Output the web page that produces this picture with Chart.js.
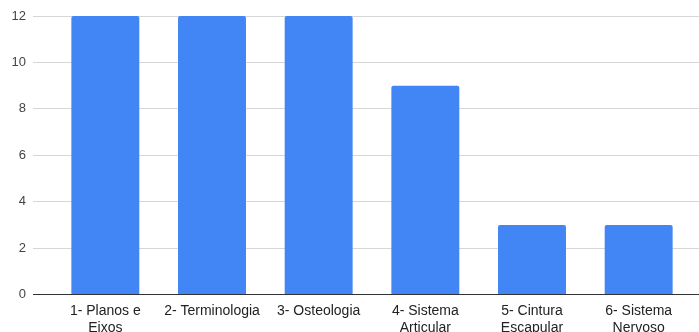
<!DOCTYPE html>
<html>
<head>
<meta charset="utf-8">
<script src="https://cdn.jsdelivr.net/npm/chart.js@4/dist/chart.umd.min.js"></script>
<style>
  html, body { margin: 0; padding: 0; background: #fff; overflow: hidden; }
  #wrap { width: 699px; height: 332px; position: relative; }
</style>
</head>
<body>
<div id="wrap"><canvas id="chart"></canvas></div>
<script>
// Topics covered and how many items fall under each
const categories = [
  ["1- Planos e", "Eixos"],
  "2- Terminologia",
  "3- Osteologia",
  ["4- Sistema", "Articular"],
  ["5- Cintura", "Escapular"],
  ["6- Sistema", "Nervoso"]
];
const counts = [12, 12, 12, 9, 3, 3];
const yTicks = [0, 2, 4, 6, 8, 10, 12];

const gridColor = ctx => (ctx.tick && ctx.tick.value === 0) ? '#333333' : '#d6d6d6';

new Chart(document.getElementById('chart'), {
  type: 'bar',
  data: {
    labels: categories,
    datasets: [{
      data: counts,
      backgroundColor: '#4285F4',
      borderRadius: { topLeft: 2, topRight: 2, bottomLeft: 0, bottomRight: 0 },
      borderSkipped: 'bottom',
      barPercentage: 0.637,
      categoryPercentage: 1.0
    }]
  },
  options: {
    responsive: true,
    maintainAspectRatio: false,
    animation: false,
    layout: { padding: { top: 16, left: 0, right: 0, bottom: 0 } },
    plugins: { legend: { display: false }, tooltip: { enabled: false } },
    scales: {
      x: {
        grid: { display: false },
        border: { display: false },
        ticks: {
          color: '#222222',
          padding: 0,
          maxRotation: 0,
          autoSkip: false,
          font: { family: 'Liberation Sans, Arial, sans-serif', size: 14, lineHeight: 1.2 }
        },
        afterFit: s => { s.height = 37.5; }
      },
      y: {
        min: 0,
        max: 12,
        afterBuildTicks: s => { s.ticks = yTicks.map(v => ({ value: v })); },
        grid: { color: gridColor, lineWidth: 1, tickLength: 19, drawTicks: true },
        border: { display: false },
        ticks: {
          color: '#444444',
          padding: 7,
          font: { family: 'Liberation Sans, Arial, sans-serif', size: 13 }
        },
        afterFit: s => { s.width = 52; }
      },
      yRight: {
        position: 'right',
        min: 0,
        max: 12,
        afterBuildTicks: s => { s.ticks = yTicks.map(v => ({ value: v })); },
        grid: { color: gridColor, lineWidth: 1, tickLength: 7, drawTicks: true, drawOnChartArea: false },
        border: { display: false },
        ticks: { display: false },
        afterFit: s => { s.width = 7; }
      }
    }
  }
});
</script>
</body>
</html>
